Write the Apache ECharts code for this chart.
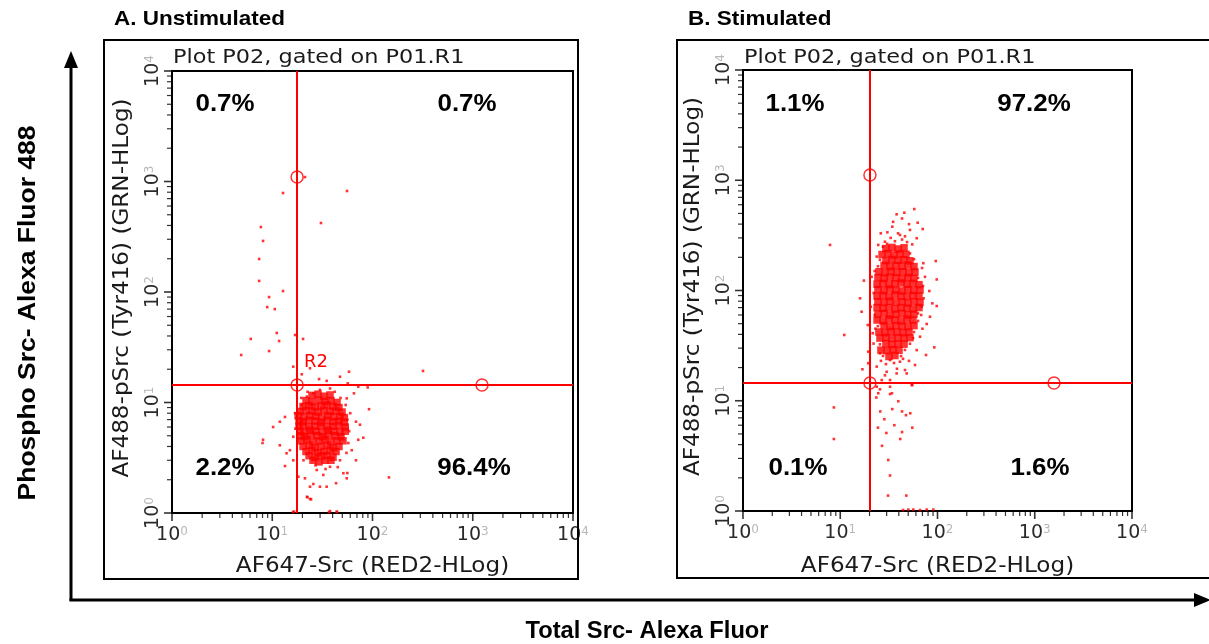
<!DOCTYPE html>
<html><head><meta charset="utf-8">
<script src="https://cdn.jsdelivr.net/npm/echarts@6/dist/echarts.min.js"></script>
<style>html,body{margin:0;padding:0;background:#fff}#c{width:1209px;height:644px}</style>
</head><body><div id="c"></div>
<script>
// ---- data (fluorescence intensities) ----
const coreA = [
[24.9,11.6],[28.6,11.9],[32.8,11.4],[37.7,11.7],
[21.7,10.4],[24.9,10.1],[29.3,10.5],[33.6,10.2],[38.5,10.4],[44.3,10.0],
[20.3,9.2],[23.3,9.4],[26.7,9.1],[30.6,9.3],[35.2,9.5],[40.4,9.2],[46.3,9.0],
[18.9,8.3],[21.7,8.5],[24.9,8.4],[28.6,8.2],[32.8,8.5],[37.7,8.3],[43.3,8.4],[49.7,8.2],
[18.1,7.6],[20.7,7.4],[23.8,7.6],[27.3,7.5],[31.3,7.3],[36.0,7.6],[41.3,7.4],[47.4,7.5],[52.4,7.3],
[18.5,6.8],[20.3,6.7],[23.3,6.9],[26.7,6.8],[30.6,6.6],[35.2,6.9],[40.4,6.7],[46.3,6.8],[52.4,6.6],
[18.5,6.1],[20.3,6.2],[23.3,6.0],[26.7,6.1],[30.6,6.2],[35.2,6.0],[40.4,6.1],[46.3,6.2],[53.5,6.0],
[18.9,5.5],[20.7,5.4],[23.8,5.6],[27.3,5.5],[31.3,5.4],[36.0,5.6],[41.3,5.5],[47.4,5.4],[53.5,5.5],
[19.2,5.0],[21.2,4.9],[24.4,5.1],[27.9,5.0],[32.1,4.9],[36.8,5.1],[42.3,5.0],[48.5,4.9],
[19.4,4.5],[22.2,4.6],[25.5,4.4],[29.3,4.5],[33.6,4.6],[38.5,4.4],[44.3,4.5],[50.8,4.5],
[20.3,4.0],[23.3,4.1],[26.7,3.9],[30.6,4.0],[35.2,4.1],[40.4,3.9],[46.3,4.0],
[21.7,3.6],[24.9,3.7],[28.6,3.5],[32.8,3.6],[37.7,3.7],[43.3,3.6],
[23.3,3.3],[26.7,3.2],[30.6,3.3],[35.2,3.3],[40.4,3.2],
[25.5,3.0],[29.3,2.9],[33.6,3.0],[38.5,3.0]
];
const haloA = [
[29.3,16.3],[34.9,15.7],[47.4,17.1],[58.3,19.0],[56.6,14.9],[72.1,13.9],[65.3,12.1],[89.5,13.7],
[55.3,10.9],[92.3,8.7],[68.4,6.7],[75.0,6.3],[80.9,4.8],[72.1,4.6],[68.4,3.0],[56.1,2.3],
[43.3,1.86],[34.9,1.73],[29.9,1.73],[25.7,1.83],[23.8,1.73],[22.4,1.39],[24.4,1.33],[37.7,1.04],
[43.9,1.03],[16.5,1.03],[21.2,2.06],[18.2,2.13],[16.2,3.0],[13.4,2.66],[13.9,3.47],[11.9,4.1],
[8.1,4.6],[8.0,4.3],[10.2,6.0],[11.9,6.7],[13.4,7.4],[16.9,8.0],[19.7,9.5],[22.1,11.3],
[25.7,12.1],[29.9,13.0],[37.7,13.4],[19.7,18.0],[23.8,20.4],[16.2,21.1],[57.4,4.3],[62.1,3.7],
[47.4,3.0],[37.7,2.62],[27.8,2.45],[51.2,2.29],[32.3,2.21],[55.3,2.06],[16.2,4.9],[15.0,3.7],
[17.5,7.2],[17.0,5.8],[56.0,7.0],[58.5,5.5],[54.0,9.5],[60.0,8.0],[48.0,11.0],[42.0,12.5],
[22.5,12.5],[19.5,11.0],[20.5,3.0],[55.0,3.5],[27.0,2.7],[45.0,2.6],[34.0,2.5],
[12.8,787],[55.7,820],[30.6,421],[7.7,387],[8.1,290],[7.4,199],[7.4,126],[12.8,102],
[9.3,90],[8.9,73],[10.6,70],[11.1,42.6],[6.1,37.6],[11.7,36],[16.9,40.8],[20.3,37.6],
[4.9,26.9],[9.3,29.2],[21.2,1097],[319,19.3],[146,2.1],[22.2,1.4],[23.8,1.34],[16.1,1.02],
[36.8,1.02],[44.3,1.02]
];
const coreB = [
[29.5,240],[34.0,246],[39.3,238],[45.3,244],
[26.9,212],[31.0,216],[35.7,210],[41.1,215],[47.4,213],
[29.5,187],[34.0,191],[39.3,188],[45.3,190],[52.1,186],
[28.2,169],[32.5,165],[37.4,168],[43.2,166],[49.7,170],[57.3,165],
[25.0,148],[28.8,145],[33.3,149],[38.3,146],[44.2,148],[50.9,145],[58.7,147],
[24.4,131],[28.2,129],[32.5,132],[37.4,130],[43.2,128],[49.7,131],[57.3,129],
[23.9,114],[27.5,116],[31.7,113],[36.5,115],[42.2,117],[48.6,114],[56.0,116],[64.5,113],
[24.4,102],[28.2,100],[32.5,103],[37.4,101],[43.2,99],[49.7,102],[57.3,100],[66.1,101],
[23.9,89],[27.5,90],[31.7,88],[36.5,91],[42.2,89],[48.6,88],[56.0,90],[64.5,89],
[24.4,79],[28.2,78],[32.5,80],[37.4,78],[43.2,79],[49.7,77],[57.3,79],[66.1,78],
[23.9,70],[27.5,69],[31.7,70],[36.5,68],[42.2,70],[48.6,69],[56.0,68],[64.5,70],
[24.4,61],[28.2,62],[32.5,60],[37.4,61],[43.2,62],[49.7,60],[57.3,61],
[23.9,54],[27.5,53],[31.7,55],[36.5,54],[42.2,53],[48.6,55],[56.0,54],
[28.2,48],[32.5,47],[37.4,48],[43.2,47.5],[49.7,47],[57.3,48],
[25.0,42],[28.8,41.5],[33.3,42.5],[38.3,42],[44.2,41.5],[50.9,42],
[25.6,37],[29.5,37.5],[34.0,36.8],[39.3,37.2],[45.3,37],[52.1,37.3],
[29.5,33],[34.0,32.4],[39.3,32.8],[45.3,32.6],
[26.2,28.8],[30.3,28.5],[34.9,29],[40.2,28.7],
[31.7,25.2],[36.5,25.7]
];
const haloB = [
[38.0,491],[45.6,508],[57.7,548],[62.5,412],[70.4,361],[34.3,379],[26.1,330],[30.5,337],
[24.6,259],[61.1,298],[95.9,185],[98.2,126],[82.4,98.9],[88.5,76.5],[98.2,72.3],[83.7,57.8],
[77.4,49.7],[92.7,30.5],[76.2,26.0],[58.7,21.1],[17.5,123],[16.0,85.0],[16.6,64.2],[19.2,48.6],
[19.4,27.9],[19.4,21.9],[16.9,19.3],[7.85,259],[11.0,39.5],[23.7,20.4],[30.0,18.3],[38.0,17.7],
[48.2,17.7],[54.3,13.9],[26.7,15.4],[32.5,15.4],[23.7,13.4],[25.6,12.7],[32.5,13.4],[55.1,13.9],
[24.6,11.7],[23.5,10.7],[32.5,11.5],[34.0,11.7],[39.5,9.9],[34.3,8.4],[25.8,8.0],[43.2,8.0],
[47.4,7.4],[52.5,7.7],[28.4,6.8],[24.4,5.7],[36.0,6.0],[55.1,5.7],[29.8,5.1],[43.2,5.2],
[41.4,4.5],[26.9,3.9],[31.2,2.9],[32.5,2.1],[31.0,1.38],[47.8,1.38],[8.6,8.7],[8.6,4.5],
[50.1,1.03],[56.4,1.03],[77.4,1.03],[90.6,1.03],[44.2,1.02],[66.1,1.02],
[71.5,177],[74.3,133],[68.8,71.3],[66.1,38.1],[61.1,28.8],[25.6,26.9],[41.1,22.6],[32.5,23.4],
[21.0,133],[20.6,71.3],[21.6,40.9],[23.7,203],[41.1,319],[52.1,354],[28.8,277],
[33.0,300],[36.5,280],[43.2,290],[48.6,275],[30.3,265],[55.0,262],[27.5,250],[39.3,330],
[46.3,310],[35.0,420],[50.9,400],[43.2,450],
[26.2,23],[29.5,21.5],[35.7,22],[44.2,24],[50.9,23],[38.3,19.5],[28.8,17],[46.3,19],
[22.6,150],[22.1,95],[22.6,60],[23.0,45],[22.0,33],[69.4,160],[70.9,110],[72.0,85],[68.0,60],[70.0,45],
[24.4,166],[25.6,190],[57.3,192],[52.1,217],[63.0,130],[63.0,62],[63.0,53],[24.4,47.5],
[57.3,42],[56.0,37],[25.6,32.5],[52.1,32.9],[46.3,28.9],[27.5,25.5],[42.2,25.4]
];
// quadrant gates [x, y] and their handles
const gateA = [17.7, 14.4];
const gateB = [20.2, 14.5];
const handlesA = [[17.7,1097],[17.7,14.4],[1237,14.4]];
const handlesB = [[20.2,1116],[20.2,14.5],[1578,14.5]];
// quadrant percentages: UL, UR, LL, LR
const pctA = ['0.7%','0.7%','2.2%','96.4%'];
const pctB = ['1.1%','97.2%','0.1%','1.6%'];
// axis ticks
const majorTicks = [1,10,100,1000,10000];
const minorTicks = [2,3,4,5,6,7,8,9,20,30,40,50,60,70,80,90,200,300,400,500,600,700,800,900,2000,3000,4000,5000,6000,7000,8000,9000];
const panelTitles = ['A. Unstimulated','B. Stimulated'];
const plotTitle = 'Plot P02, gated on P01.R1';
const xName = 'AF647-Src (RED2-HLog)';
const yName = 'AF488-pSrc (Tyr416) (GRN-HLog)';

const RED = '#ff0000';
const rich = {
  b:{fontFamily:'DejaVu Sans',fontSize:19,color:'#2a2a2a'},
  s:{fontFamily:'DejaVu Sans',fontSize:12,color:'#b8b8b8',verticalAlign:'top'}
};
const fmt = v => '{b|10}{s|' + Math.round(Math.log10(v)) + '}';

function mainAxis(gi, pos){
  const isX = pos === 'bottom';
  return {type:'log', logBase:10, gridIndex:gi, min:1, max:10000, position:pos,
    axisLine:{show:true, onZero:false, lineStyle:{color:'#000', width:2}},
    axisTick:{show:false},
    axisLabel:{show:true, customValues:majorTicks, margin: isX ? 13 : 9, rotate: isX ? 0 : 90,
      showMinLabel:true, showMaxLabel:true, formatter:fmt, rich:rich},
    splitLine:{show:false}, minorTick:{show:false}};
}
// tick marks drawn as small bars sitting on the axes (log-spaced minor ticks)
function tickSeries(idx){
  const base = {type:'scatter', xAxisIndex:idx, yAxisIndex:idx, symbol:'rect', silent:true, clip:false,
    itemStyle:{color:'#000'}, z:5};
  return [
    Object.assign({}, base, {data:majorTicks.map(v => [v, 1]), symbolSize:[1.6, 8], symbolOffset:[0, 4]}),
    Object.assign({}, base, {data:minorTicks.map(v => [v, 1]), symbolSize:[1.2, 5], symbolOffset:[0, 2.5]}),
    Object.assign({}, base, {data:majorTicks.map(v => [1, v]), symbolSize:[8, 1.6], symbolOffset:[-4, 0]}),
    Object.assign({}, base, {data:minorTicks.map(v => [1, v]), symbolSize:[5, 1.2], symbolOffset:[-2.5, 0]})
  ];
}
function panelSeries(idx, core, halo, gate, handles){
  return [
    {type:'scatter', xAxisIndex:idx, yAxisIndex:idx, data:core, symbol:'rect', symbolSize:7.5,
      itemStyle:{color:RED}, silent:true, z:3},
    {type:'scatter', xAxisIndex:idx, yAxisIndex:idx, data:halo, symbol:'rect', symbolSize:2.6,
      itemStyle:{color:RED}, silent:true, z:3},
    {type:'scatter', xAxisIndex:idx, yAxisIndex:idx, data:handles, symbol:'circle', symbolSize:12,
      itemStyle:{color:'rgba(0,0,0,0)', borderColor:RED, borderWidth:1.5}, silent:true, z:4,
      markLine:{silent:true, symbol:['none','none'], label:{show:false},
        lineStyle:{color:RED, width:2, type:'solid'},
        data:[{xAxis:gate[0]},{yAxis:gate[1]}]}}
  ].concat(tickSeries(idx));
}

const panels = [
  {box:[104,40,474,539], grid:[172,71,401,442], pcts:pctA, pctPos:[[225,104],[467,104],[225,468],[474,468]], title:[114,19]},
  {box:[677,40,600,538], grid:[743,70,389,441], pcts:pctB, pctPos:[[795,104],[1034,104],[798,468],[1040,468]], title:[688,19]}
];

const elements = [];
panels.forEach((p, i) => {
  elements.push({type:'rect', shape:{x:p.box[0], y:p.box[1], width:p.box[2], height:p.box[3]},
    style:{fill:'none', stroke:'#000', lineWidth:2}, z:1});
  elements.push({type:'text', x:p.title[0], y:p.title[1], scaleX:1.07,
    style:{text:panelTitles[i], fontFamily:'Liberation Sans', fontWeight:'bold', fontSize:21, fill:'#000', align:'left', verticalAlign:'middle'}});
  const g = p.grid;
  elements.push({type:'text', x:g[0]+1, y:58, scaleX:1.12,
    style:{text:plotTitle, fontFamily:'DejaVu Sans', fontSize:20, fill:'#1a1a1a', align:'left', verticalAlign:'middle'}});
  elements.push({type:'text', x:g[0]+g[2]/2, y:566, scaleX:1.05,
    style:{text:xName, fontFamily:'DejaVu Sans', fontSize:22, fill:'#1a1a1a', align:'center', verticalAlign:'middle'}});
  elements.push({type:'text', x:g[0]-50, y:g[1]+g[3]/2 - 4, rotation:Math.PI/2, scaleX:1.05,
    style:{text:yName, fontFamily:'DejaVu Sans', fontSize:22, fill:'#1a1a1a', align:'center', verticalAlign:'middle'}});
  p.pcts.forEach((t, k) => {
    elements.push({type:'text', x:p.pctPos[k][0], y:p.pctPos[k][1], scaleX:1.08, z:10,
      style:{text:t, fontFamily:'Liberation Sans', fontWeight:'bold', fontSize:24, fill:'#000', align:'center', verticalAlign:'middle'}});
  });
});
elements.push({type:'text', x:304, y:362, z:2,
  style:{text:'R2', fontFamily:'DejaVu Sans', fontSize:18, fill:RED, align:'left', verticalAlign:'middle'}});
// big outer axes
elements.push({type:'line', shape:{x1:71, y1:601, x2:71, y2:64}, style:{stroke:'#000', lineWidth:3}});
elements.push({type:'polygon', shape:{points:[[64,68],[78,68],[71,51]]}, style:{fill:'#000'}});
elements.push({type:'line', shape:{x1:69.5, y1:600, x2:1198, y2:600}, style:{stroke:'#000', lineWidth:3}});
elements.push({type:'polygon', shape:{points:[[1194,593],[1194,607],[1211,600]]}, style:{fill:'#000'}});
elements.push({type:'text', x:29, y:313, rotation:Math.PI/2, scaleX:1.15,
  style:{text:'Phospho Src- Alexa Fluor 488', fontFamily:'Liberation Sans', fontWeight:'bold', fontSize:23, fill:'#000', align:'center', verticalAlign:'middle'}});
elements.push({type:'text', x:647, y:632, scaleX:1.03,
  style:{text:'Total Src- Alexa Fluor', fontFamily:'Liberation Sans', fontWeight:'bold', fontSize:23, fill:'#000', align:'center', verticalAlign:'middle'}});

const chart = echarts.init(document.getElementById('c'), null, {renderer:'canvas'});
chart.setOption({
  animation:false,
  backgroundColor:'#fff',
  grid: panels.map(p => ({left:p.grid[0], top:p.grid[1], width:p.grid[2], height:p.grid[3],
    show:true, borderColor:'#000', borderWidth:2, backgroundColor:'rgba(0,0,0,0)', containLabel:false, outerBoundsMode:'none'})),
  xAxis:[mainAxis(0,'bottom'), mainAxis(1,'bottom')],
  yAxis:[mainAxis(0,'left'), mainAxis(1,'left')],
  series:[].concat(panelSeries(0, coreA, haloA, gateA, handlesA), panelSeries(1, coreB, haloB, gateB, handlesB)),
  graphic:{elements:elements}
});
</script></body></html>
